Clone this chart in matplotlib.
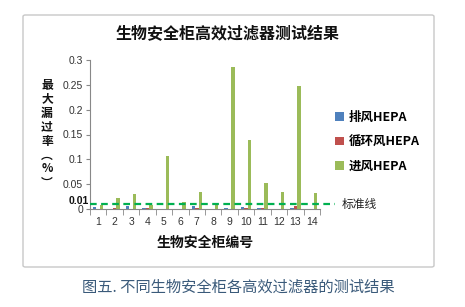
import matplotlib
matplotlib.use("Agg")
import matplotlib.pyplot as plt
from matplotlib.patches import FancyBboxPatch
import numpy as np

plt.rcParams['font.family'] = ['Noto Sans CJK SC', 'DejaVu Sans']

cabinets = [str(i) for i in range(1, 15)]
exhaust = [0.005, 0.0, 0.006, 0.003, 0.0, 0.0, 0.006, 0.0, 0.003, 0.005, 0.003, 0.001, 0.003, 0.0]
recirc = [0.0, 0.003, 0.001, 0.003, 0.0, 0.0, 0.003, 0.0, 0.001, 0.003, 0.003, 0.001, 0.007, 0.001]
intake = [0.008, 0.022, 0.030, 0.008, 0.107, 0.014, 0.034, 0.008, 0.286, 0.138, 0.052, 0.034, 0.247, 0.032]
standard = 0.01
series_names = ['排风HEPA', '循环风HEPA', '进风HEPA']
colors = ['#4F81BD', '#C0504D', '#9BBB59']
yticks = [0, 0.05, 0.1, 0.15, 0.2, 0.25, 0.3]
ytick_labels = ['0', '0.05', '0.1', '0.15', '0.2', '0.25', '0.3']

W, H = 465, 307
fig = plt.figure(figsize=(W / 100, H / 100), dpi=100)
fig.patch.set_facecolor('white')

# chart frame
frame = FancyBboxPatch((23 / W, 1 - 267 / H), (434 - 23) / W, (267 - 15) / H,
                       boxstyle="round,pad=0,rounding_size=0.005",
                       transform=fig.transFigure, fill=False,
                       edgecolor='#c8c8c8', linewidth=1.0)
fig.patches.append(frame)

ax = fig.add_axes([90 / W, 1 - 209 / H, (320 - 90) / W, (209 - 60) / H])
x = np.arange(1, 15)
bw = 0.21
for i, (vals, name, c) in enumerate(zip([exhaust, recirc, intake], series_names, colors)):
    ax.bar(x + (i - 1) * bw, vals, width=bw, color=c, label=name, zorder=2)

ax.set_xlim(0.5, 14.5)
ax.set_ylim(0, 0.3)
ax.set_yticks(yticks)
ax.set_yticklabels(ytick_labels, family=['Liberation Sans', 'DejaVu Sans'], fontsize=7.5, color='#333333')
ax.set_xticks(x)
ax.set_xticklabels(cabinets, family=['Liberation Sans', 'DejaVu Sans'], fontsize=7.5, color='#333333')
ax.tick_params(axis='x', length=0, pad=6)
ax.set_xticks(np.arange(0.5, 15, 1), minor=True)
ax.tick_params(axis='x', which='minor', length=4, color='#888888', direction='out')
ax.tick_params(axis='y', length=3, color='#888888', direction='out', pad=2)
for s in ['top', 'right']:
    ax.spines[s].set_visible(False)
for s in ['left', 'bottom']:
    ax.spines[s].set_color('#888888')
    ax.spines[s].set_linewidth(0.8)

# standard line
ax.plot([0, 1.065], [standard, standard], transform=ax.get_yaxis_transform(),
        color='#00B050', linestyle=(0, (3, 2)), linewidth=1.6, clip_on=False, zorder=3)
ax.text(1.095, standard, '标准线', transform=ax.get_yaxis_transform(),
        fontsize=8.5, va='center', ha='left', color='#222222')
ax.text(-0.005, standard + 0.0055, '0.01', transform=ax.get_yaxis_transform(),
        fontsize=7.5, fontweight='bold', va='center', ha='right',
        family=['Liberation Sans', 'DejaVu Sans'], color='#111111')

leg = ax.legend(loc='upper left', bbox_to_anchor=(1.045, 0.69), frameon=False,
                fontsize=9, handlelength=0.7, handleheight=0.7, handletextpad=0.4,
                labelspacing=0.9, borderaxespad=0)
for t in leg.get_texts():
    t.set_fontweight('bold')

# title
fig.text(228 / W, 1 - 34 / H, '生物安全柜高效过滤器测试结果', fontsize=11.5, fontweight='bold',
         ha='center', va='center', color='#111111')
# y label stacked vertically
ylabel = '最大漏过率︵%︶'
fig.text(47 / W, 1 - 134 / H, '\n'.join(ylabel), fontsize=8.5, fontweight='bold',
         ha='center', va='center', linespacing=1.1, color='#111111')
# x label
fig.text(205 / W, 1 - 243 / H, '生物安全柜编号', fontsize=10, fontweight='bold',
         ha='center', va='center', color='#111111')
# caption
fig.text(238 / W, 1 - 287 / H, '图五. 不同生物安全柜各高效过滤器的测试结果', fontsize=11,
         ha='center', va='center', color='#3a5a7a')

fig.savefig('out.png', dpi=100, facecolor='white')
